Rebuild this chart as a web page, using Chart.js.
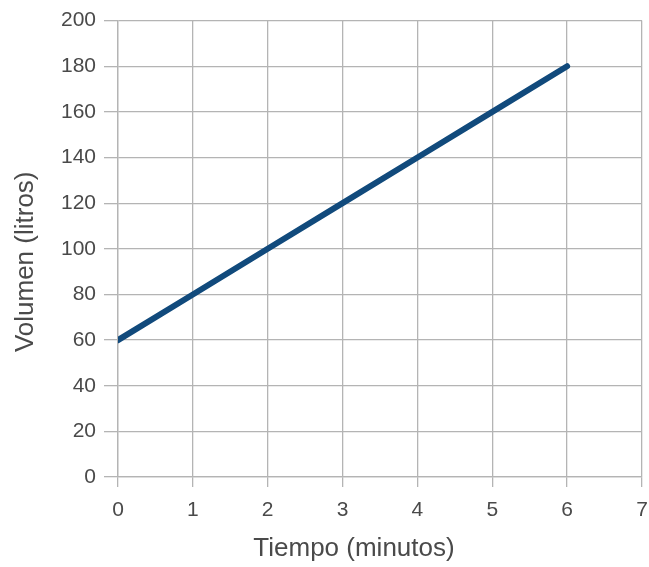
<!DOCTYPE html>
<html>
<head>
<meta charset="utf-8">
<script src="https://cdn.jsdelivr.net/npm/chart.js@4/dist/chart.umd.min.js"></script>
<style>
  html, body { margin: 0; padding: 0; background: #fff; }
  #wrap { width: 649px; height: 567px; }
</style>
</head>
<body>
<div id="wrap"><canvas id="c" width="649" height="567"></canvas></div>
<script>
'use strict';

// Tiempo (minutos) vs Volumen (litros)
const tiempo = [0, 1, 2, 3, 4, 5, 6];
const volumen = [60, 80, 100, 120, 140, 160, 180];
const xTicks = [0, 1, 2, 3, 4, 5, 6, 7];
const yTicks = [0, 20, 40, 60, 80, 100, 120, 140, 160, 180, 200];
const xTitle = 'Tiempo (minutos)';
const yTitle = 'Volumen (litros)';

const gridColor = '#b4b4b4';
const textColor = '#4a4a4a';
const fontFamily = '"Liberation Sans", Arial, sans-serif';
const font = { family: fontFamily, size: 21 };

// Axis titles are centred on the whole diagram rather than the plot area,
// so draw them ourselves.
const axisTitles = {
  id: 'axisTitles',
  afterDraw(chart, args, opts) {
    const { ctx, chartArea } = chart;
    ctx.save();
    ctx.fillStyle = textColor;
    ctx.font = `${opts.size}px ${fontFamily}`;
    ctx.textAlign = 'center';
    ctx.textBaseline = 'middle';
    ctx.fillText(xTitle, (chartArea.left + chartArea.right) / 2 + opts.xShift, chart.height - opts.bottom);
    ctx.translate(opts.left, (chartArea.top + chartArea.bottom) / 2 + opts.yShift);
    ctx.rotate(-Math.PI / 2);
    ctx.fillText(yTitle, 0, 0);
    ctx.restore();
  },
};

new Chart(document.getElementById('c'), {
  type: 'scatter',
  data: {
    datasets: [{
      data: tiempo.map((t, i) => ({ x: t, y: volumen[i] })),
      showLine: true,
      borderColor: '#114a7c',
      borderWidth: 6,
      borderCapStyle: 'round',
      pointRadius: 0,
      fill: false,
    }],
  },
  plugins: [axisTitles],
  options: {
    responsive: false,
    animation: false,
    layout: { padding: { top: 16, right: 0, bottom: 0, left: 0 } },
    plugins: {
      legend: { display: false },
      tooltip: { enabled: false },
      axisTitles: { size: 26, xShift: -26, bottom: 18, left: 26, yShift: 13 },
    },
    scales: {
      x: {
        type: 'linear',
        min: xTicks[0],
        max: xTicks[xTicks.length - 1],
        afterBuildTicks: (s) => { s.ticks = xTicks.map(v => ({ value: v })); },
        afterFit: (s) => { s.height = 90; s.paddingLeft = 0; s.paddingRight = 7; },
        grid: { color: gridColor, lineWidth: 1.3, tickLength: 10 },
        border: { color: gridColor, width: 1.3 },
        ticks: { color: textColor, font, padding: 11 },
      },
      y: {
        type: 'linear',
        min: yTicks[0],
        max: yTicks[yTicks.length - 1],
        afterBuildTicks: (s) => { s.ticks = yTicks.map(v => ({ value: v })); },
        afterFit: (s) => { s.width = 118; },
        grid: { color: gridColor, lineWidth: 1.3, tickLength: 14 },
        border: { color: gridColor, width: 1.3 },
        ticks: { color: textColor, font, padding: 8 },
      },
    },
  },
});
</script>
</body>
</html>
